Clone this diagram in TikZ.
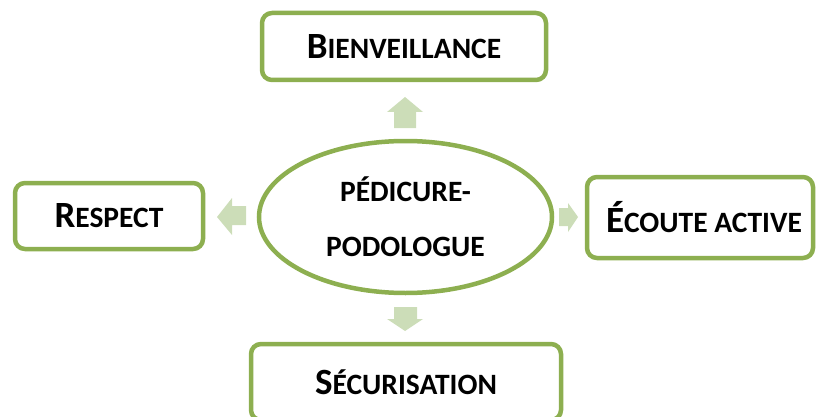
\documentclass[tikz,border=0pt]{standalone}
\usepackage{fontspec}
\setmainfont{Carlito}
\usetikzlibrary{shapes.geometric}
\definecolor{bordergreen}{HTML}{8DAF50}
\definecolor{arrowgreen}{HTML}{CCDDB8}
\newcommand\bigcapletter[1]{{\fontsize{37}{37}\selectfont #1}}
\newcommand\smallcapletters[1]{{\fontsize{29.5}{29.5}\selectfont #1}}
\begin{document}
\begin{tikzpicture}[x=1pt,y=1pt,
  valuebox/.style={draw=bordergreen, line width=4.5pt, rounded corners=10pt, fill=white,
    inner sep=0pt, font=\bfseries},
  centre/.style={draw=bordergreen, line width=4.5pt, ellipse, fill=white, inner sep=0pt,
    minimum width=293pt, minimum height=152pt, align=center,
    font=\bfseries\fontsize{29.5}{55}\selectfont},
  blockarrow/.style={fill=arrowgreen, draw=none}]
\useasboundingbox (0,0) rectangle (817,416);
\node[centre] (c) at (405.5,199) {PÉDICURE-\\PODOLOGUE};
\node[valuebox, minimum width=284pt, minimum height=67pt] (top) at (404,369.5)
  {\bigcapletter{B}\smallcapletters{IENVEILLANCE}};
\node[valuebox, minimum width=188pt, minimum height=66pt] (left) at (109,200)
  {\bigcapletter{R}\smallcapletters{ESPECT}};
\node[valuebox, minimum width=226pt, minimum height=81pt] (right) at (700,198.5)
  {\hspace*{8pt}\bigcapletter{É}\smallcapletters{COUTE ACTIVE}};
\node[valuebox, minimum width=310pt, minimum height=76pt] (bottom) at (406,34)
  {\bigcapletter{S}\smallcapletters{ÉCURISATION}};
% block arrows
\fill[blockarrow] (394,288) -- (394,304) -- (387,304) -- (405,319) -- (423,304) -- (416,304) -- (416,288) -- cycle;
\fill[blockarrow] (394,109) -- (394,97) -- (387,97) -- (405,85) -- (423,97) -- (417,97) -- (417,109) -- cycle;
\fill[blockarrow] (246,191) -- (232,191) -- (232,181) -- (217,199) -- (232,218) -- (232,210) -- (246,210) -- cycle;
\fill[blockarrow] (559,190) -- (568,190) -- (568,184) -- (578,199) -- (568,213) -- (568,208) -- (559,208) -- cycle;
\end{tikzpicture}
\end{document}
